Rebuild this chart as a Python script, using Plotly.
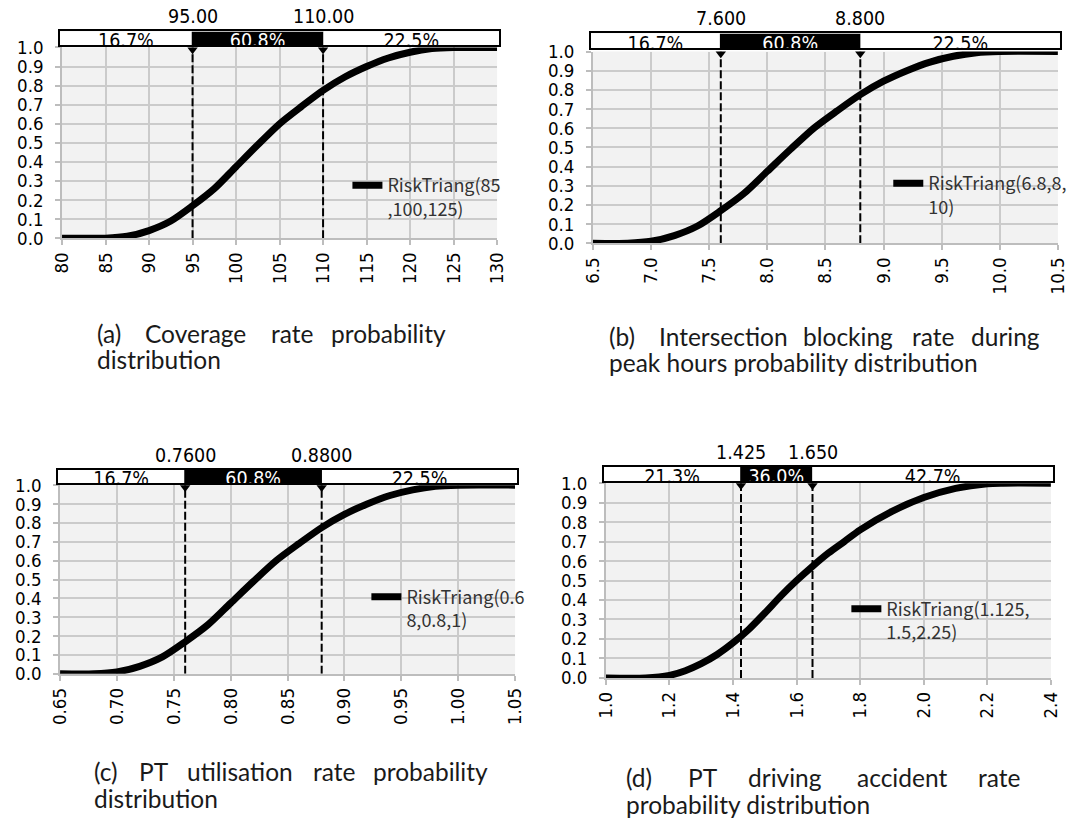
import plotly.graph_objects as go

# measured mapping between page pixels and the photographed picture:
# picture = (page + O) * S
SX, OX = 0.983, 8
SY, OY = 0.971, 12
FW, FH = 1101, 830

# ---------------- data ----------------
a_x = [80, 82.5, 85, 87.5, 90, 92.5, 95, 97.5, 100, 102.5, 105, 107.5, 110, 112.5, 115, 117.5, 120, 122.5, 125, 127.5, 130]
a_y = [0, 0, 0, 0.01, 0.04, 0.09, 0.17, 0.26, 0.375, 0.49, 0.6, 0.69, 0.775, 0.845, 0.9, 0.945, 0.975, 0.994, 1.0, 1.0, 1.0]

b_x = [6.5, 6.8, 7.0, 7.2, 7.4, 7.6, 7.8, 8.0, 8.2, 8.4, 8.6, 8.8, 9.0, 9.2, 9.4, 9.6, 9.8, 10.0, 10.5]
b_y = [0, 0, 0.01, 0.04, 0.09, 0.17, 0.26, 0.375, 0.49, 0.6, 0.69, 0.775, 0.845, 0.9, 0.945, 0.975, 0.994, 1.0, 1.0]

c_x = [0.65, 0.68, 0.70, 0.72, 0.74, 0.76, 0.78, 0.80, 0.82, 0.84, 0.86, 0.88, 0.90, 0.92, 0.94, 0.96, 0.98, 1.00, 1.05]
c_y = [0, 0, 0.01, 0.04, 0.09, 0.17, 0.26, 0.375, 0.49, 0.6, 0.69, 0.775, 0.845, 0.9, 0.945, 0.975, 0.994, 1.0, 1.0]

d_x = [1.0, 1.125, 1.2, 1.25, 1.3, 1.35, 1.4, 1.45, 1.5, 1.55, 1.6, 1.65, 1.7, 1.75, 1.8, 1.9, 2.0, 2.1, 2.2, 2.25, 2.4]
d_y = [0, 0, 0.013, 0.037, 0.073, 0.12, 0.18, 0.25, 0.333, 0.42, 0.5, 0.573, 0.641, 0.70, 0.76, 0.855, 0.926, 0.973, 0.997, 1.0, 1.0]

a_marks = [95, 110]
b_marks = [7.6, 8.8]
c_marks = [0.76, 0.88]
d_marks = [1.425, 1.65]

a_mark_labels = ["95.00", "110.00"]
b_mark_labels = ["7.600", "8.800"]
c_mark_labels = ["0.7600", "0.8800"]
d_mark_labels = ["1.425", "1.650"]

a_pct = ["16.7%", "60.8%", "22.5%"]
b_pct = ["16.7%", "60.8%", "22.5%"]
c_pct = ["16.7%", "60.8%", "22.5%"]
d_pct = ["21.3%", "36.0%", "42.7%"]

a_name = "RiskTriang(85<br>,100,125)"
b_name = "RiskTriang(6.8,8,<br>10)"
c_name = "RiskTriang(0.6<br>8,0.8,1)"
d_name = "RiskTriang(1.125,<br>1.5,2.25)"

a_caption = [["(a)", "Coverage", "rate", "probability"], ["distribution"]]
b_caption = [["(b)", "Intersection", "blocking", "rate", "during"], ["peak hours probability distribution"]]
c_caption = [["(c)", "PT", "utilisation", "rate", "probability"], ["distribution"]]
d_caption = [["(d)", "PT", "driving", "accident", "rate"], ["probability distribution"]]

# ---------------- layout geometry (reference pixels) ----------------
panels = [
    dict(x=a_x, y=a_y, marks=a_marks, mlab=a_mark_labels, pct=a_pct, name=a_name,
         xr=[80, 130], t0=80, dt=5, fmt=".0f",
         px=(59, 495), py=(48, 238), bar=(32, 46), leg=(388, 187),
         cap=a_caption, capx=[93, 141, 267, 445], capy=(333, 359)),
    dict(x=b_x, y=b_y, marks=b_marks, mlab=b_mark_labels, pct=b_pct, name=b_name,
         xr=[6.5, 10.5], t0=6.5, dt=0.5, fmt=".1f",
         px=(591, 1057), py=(52, 243), bar=(34, 49), leg=(930, 185),
         cap=b_caption, capx=[606, 656, 801, 910, 1040], capy=(336, 362)),
    dict(x=c_x, y=c_y, marks=c_marks, mlab=c_mark_labels, pct=c_pct, name=c_name,
         xr=[0.65, 1.05], t0=0.65, dt=0.05, fmt=".2f",
         px=(57, 513), py=(484, 672), bar=(469, 482), leg=(407, 597),
         cap=c_caption, capx=[90, 135, 183, 310, 487], capy=(769, 796)),
    dict(x=d_x, y=d_y, marks=d_marks, mlab=d_mark_labels, pct=d_pct, name=d_name,
         xr=[1.0, 2.4], t0=1.0, dt=0.2, fmt=".1f",
         px=(604, 1050), py=(482, 676), bar=(466, 480), leg=(888, 609),
         cap=d_caption, capx=[623, 685, 745, 855, 1020], capy=(775, 802)),
]


def fx(px):
    return (px / SX - OX) / FW


def fy(py):
    return 1 - (py / SY - OY) / FH


XTICKFONT = dict(family="DejaVu Sans Condensed, DejaVu Sans, sans-serif", size=18.5, color="black")
YTICKFONT = dict(family="DejaVu Sans Condensed, DejaVu Sans, sans-serif", size=18.5, color="black")
BARFONT = dict(family="DejaVu Sans Condensed, DejaVu Sans, sans-serif", size=19.5, color="black")
CAPFONT = dict(family="Lato, Carlito, sans-serif", size=24.5, color="#1a1a1a")

fig = go.Figure()
layout = dict(
    width=FW, height=FH, margin=dict(l=0, r=0, t=0, b=0), autosize=False,
    paper_bgcolor="white", plot_bgcolor="#f2f2f2", showlegend=True,
)
shapes = []
annotations = []

for i, p in enumerate(panels):
    k = i + 1
    kb = i + 5
    xa, ya = f"x{k}" if k > 1 else "x", f"y{k}" if k > 1 else "y"
    xb, yb = f"x{kb}", f"y{kb}"
    legname = "legend" if k == 1 else f"legend{k}"

    x0p, x1p = p["px"]
    ytop, ybot = p["py"]
    layout[f"xaxis{k if k > 1 else ''}"] = dict(
        domain=[fx(x0p), fx(x1p)], range=p["xr"], anchor=ya,
        tick0=p["t0"], dtick=p["dt"], tickformat=p["fmt"], tickangle=-90,
        showgrid=True, gridcolor="#cbcbcb", gridwidth=1.5,
        showline=True, linecolor="#bdbdbd", linewidth=1.5,
        ticks="outside", ticklen=5, tickcolor="#bdbdbd", tickwidth=1.5,
        tickfont=XTICKFONT, zeroline=False,
    )
    layout[f"yaxis{k if k > 1 else ''}"] = dict(
        domain=[fy(ybot), fy(ytop)], range=[0, 1], anchor=xa,
        dtick=0.1, tick0=0, tickformat=".1f",
        showgrid=True, gridcolor="#cbcbcb", gridwidth=1.5,
        showline=True, linecolor="#bdbdbd", linewidth=1.5,
        ticks="outside", ticklen=5, tickcolor="#bdbdbd", tickwidth=1.5,
        tickfont=YTICKFONT, zeroline=False, ticklabelstandoff=8,
    )
    btop, bbot = p["bar"]
    layout[f"xaxis{kb}"] = dict(
        domain=[fx(x0p - 2), fx(x1p + 2)], range=p["xr"], anchor=yb,
        showgrid=False, showticklabels=False, ticks="", zeroline=False,
        showline=True, mirror=True, linecolor="black", linewidth=1.5,
    )
    layout[f"yaxis{kb}"] = dict(
        domain=[fy(bbot), fy(btop)], range=[0, 1], anchor=xb,
        showgrid=False, showticklabels=False, ticks="", zeroline=False,
        showline=True, mirror=True, linecolor="black", linewidth=1.5,
    )

    m1, m2 = p["marks"]
    segs = [(p["xr"][0], m1, "white"), (m1, m2, "black"), (m2, p["xr"][1], "white")]
    for s0, s1, col in segs:
        shapes.append(dict(type="rect", xref=xb, yref=yb, x0=s0, x1=s1, y0=0, y1=1,
                           fillcolor=col, line=dict(width=0), layer="below"))
    mids = [(s0 + s1) / 2 for s0, s1, _ in segs]
    fig.add_trace(go.Scatter(
        x=mids, y=[0.25] * 3, xaxis=xb, yaxis=yb, mode="text", text=p["pct"],
        textposition="middle center", cliponaxis=True, showlegend=False, hoverinfo="skip",
        textfont=dict(family=BARFONT["family"], size=19.5, color=["black", "white", "black"]),
    ))
    for mv, ml in zip(p["marks"], p["mlab"]):
        annotations.append(dict(x=mv, y=fy(btop - 1), xref=xa, yref="paper", text=ml,
                                showarrow=False, xanchor="center", yanchor="bottom",
                                font=BARFONT))

    fig.add_trace(go.Scatter(
        x=p["x"], y=p["y"], xaxis=xa, yaxis=ya, mode="lines", name=p["name"],
        line=dict(color="black", width=7, shape="spline", smoothing=0.8),
        cliponaxis=False, legend=legname, showlegend=True,
    ))
    for mv in p["marks"]:
        fig.add_trace(go.Scatter(
            x=[mv, mv], y=[0, 1], xaxis=xa, yaxis=ya, mode="lines",
            line=dict(color="black", width=2, dash="8px,3px"), showlegend=False,
            hoverinfo="skip", cliponaxis=False,
        ))
    fig.add_trace(go.Scatter(
        x=p["marks"], y=[0.988, 0.988], xaxis=xa, yaxis=ya, mode="markers",
        marker=dict(symbol="triangle-down", size=9, color="black"),
        showlegend=False, hoverinfo="skip", cliponaxis=False,
    ))

    tx, ly = p["leg"]
    layout[legname] = dict(
        x=fx(tx - 43), y=fy(ly - 20), xanchor="left", yanchor="top",
        bgcolor="rgba(0,0,0,0)", borderwidth=0, valign="top",
        font=dict(family="Noto Sans CJK SC, Noto Sans, sans-serif", size=18, color="#333333"),
    )

    words, rest = p["cap"]
    cy1, cy2 = p["capy"]
    for j, (wd, wx) in enumerate(zip(words, p["capx"])):
        last = j == len(words) - 1
        annotations.append(dict(x=fx(wx), y=fy(cy1), xref="paper", yref="paper", text=wd,
                                showarrow=False, xanchor="right" if last else "left",
                                yanchor="middle", font=CAPFONT, borderpad=0))
    annotations.append(dict(x=fx(p["capx"][0]), y=fy(cy2), xref="paper", yref="paper",
                            text=rest[0], showarrow=False, xanchor="left", yanchor="middle",
                            font=CAPFONT, borderpad=0))

layout["shapes"] = shapes
layout["annotations"] = annotations
fig.update_layout(**layout)

fig.write_html(
    "out.html",
    config={"displayModeBar": False},
    post_script="document.body.style.margin='0';document.body.style.padding='0';",
)
